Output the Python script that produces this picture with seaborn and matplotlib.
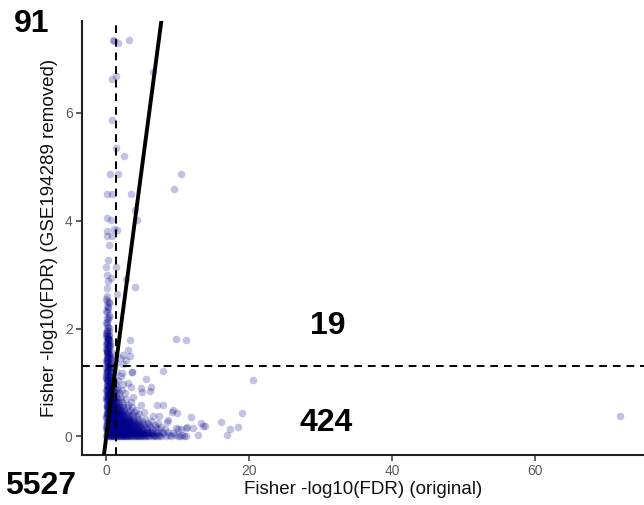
import numpy as np
import pandas as pd
import matplotlib
matplotlib.use("Agg")
import matplotlib.pyplot as plt
import seaborn as sns

sns.set_theme(style="white")
plt.rcParams['font.family'] = ['Liberation Sans', 'DejaVu Sans']

# ---------------- data ----------------
x_label = "Fisher -log10(FDR) (original)"
y_label = "Fisher -log10(FDR) (GSE194289 removed)"
x_ticks = [0, 20, 40, 60]
y_ticks = [0, 2, 4, 6]
fdr_cut = 1.3
quad_counts = {"top_left": "91", "bottom_left": "5527", "top_right": "19", "bottom_right": "424"}

# individually visible points
sparse_x = [1.0, 1.57, 3.2, 1.14, 0.76, 1.3, 6.5, 0.76, 1.36, 2.48,
            0.52, 1.6, 10.4, 9.44, 0.05, 0.8, 3.46, 4.0, 4.3, 0.05,
            0.66, 1.45, 1.12, 0.05, 0.07, 0.76, 0.42, 0.0, 1.36, 0.14,
            0.6, 0.05, 4.0, 1.54, 2.76, 0.05, 0.34, 0.0, 0.42, 0.05,
            0.07, 0.05, 3.3, 3.1, 2.3, 2.75, 9.75, 11.1, 8.0, 3.64,
            3.0, 5.56, 6.12, 4.96, 7.06, 9.4, 20.5, 19.0, 16.1, 18.5,
            17.3, 16.9, 13.8, 13.2, 12.9, 11.3, 10.1, 8.7, 72.0, 11.9,
            13.6, 10.9, 10.3, 11.1, 12.2, 9.9, 3.3, 2.4, 2.2, 0.3,
            0.2, 0.1, 0.25, 0.15, 0.35,
            3.6, 4.8, 6.2, 8.0, 9.2, 7.4, 8.5, 9.7,
            0.1, 0.3, 0.0, 0.2, 0.4, 0.05, 0.25, 0.15, 0.35, 0.0]
sparse_y = [7.36, 7.30, 7.36, 7.33, 6.63, 6.69, 6.75, 5.86, 5.35, 5.21,
            4.87, 4.87, 4.87, 4.58, 4.49, 4.49, 4.49, 4.20, 4.02, 4.05,
            4.02, 3.83, 3.84, 3.81, 3.72, 3.72, 3.55, 3.15, 3.15, 3.00,
            2.94, 2.75, 2.78, 2.65, 2.92, 2.60, 2.47, 2.32, 2.26, 2.13,
            2.07, 1.95, 1.79, 1.61, 1.51, 1.42, 1.81, 1.79, 1.22, 1.20,
            0.99, 1.06, 0.85, 0.82, 0.58, 0.49, 1.05, 0.44, 0.26, 0.17,
            0.13, 0.03, 0.19, 0.25, 0.03, 0.18, 0.14, 0.31, 0.38, 0.36,
            0.19, 0.00, 0.00, 0.15, 0.15, 0.43, 1.50, 1.35, 1.18, 3.28,
            2.88, 2.52, 2.40, 2.20, 2.02,
            1.19, 0.89, 0.91, 0.58, 0.46, 0.37, 0.27, 0.15,
            1.98, 2.03, 2.10, 2.17, 2.22, 2.30, 2.36, 2.42, 2.50, 2.55]

# dense column of genes near x = 0
col_x = [0.0, 0.2, 0.45, 0.1, 0.3, 0.05, 0.6, 0.15, 0.35, 0.25,
         0.1, 0.4, 0.0, 0.25, 0.55, 0.15, 0.3, 0.05, 0.5, 0.2,
         0.3, 0.0, 0.2, 0.5, 0.1, 0.4, 0.05, 0.35, 0.15, 0.6,
         0.05, 0.35, 0.15, 0.6, 0.0, 0.25, 0.45, 0.1, 0.3, 0.2,
         0.4, 0.1, 0.3, 0.0, 0.2, 0.55, 0.15, 0.05, 0.25, 0.45,
         0.2, 0.5, 0.05, 0.3, 0.45, 0.0, 0.1, 0.4, 0.6, 0.15,
         0.0, 0.25, 0.4, 0.15, 0.05, 0.35, 0.2, 0.5, 0.1, 0.3,
         0.15, 0.45, 0.0, 0.3, 0.6, 0.1, 0.25, 0.05, 0.35, 0.2,
         0.35, 0.05, 0.2, 0.45, 0.1, 0.0, 0.3, 0.15, 0.5, 0.25,
         0.1, 0.3, 0.0, 0.2, 0.4, 0.05, 0.15, 0.35, 0.25, 0.45]
col_y = [0.00, 0.03, 0.06, 0.04, 0.09, 0.12, 0.10, 0.15, 0.18, 0.14,
         0.21, 0.24, 0.20, 0.27, 0.30, 0.26, 0.33, 0.36, 0.32, 0.39,
         0.42, 0.38, 0.45, 0.48, 0.44, 0.51, 0.54, 0.50, 0.57, 0.60,
         0.56, 0.63, 0.66, 0.62, 0.69, 0.72, 0.68, 0.75, 0.78, 0.74,
         0.81, 0.84, 0.80, 0.87, 0.90, 0.86, 0.93, 0.96, 0.92, 0.99,
         1.02, 0.98, 1.05, 1.08, 1.04, 1.11, 1.14, 1.10, 1.17, 1.20,
         1.16, 1.23, 1.26, 1.22, 1.29, 1.32, 1.28, 1.35, 1.38, 1.34,
         1.41, 1.44, 1.40, 1.47, 1.50, 1.46, 1.53, 1.56, 1.52, 1.59,
         1.62, 1.58, 1.65, 1.68, 1.64, 1.71, 1.74, 1.70, 1.77, 1.80,
         1.76, 1.83, 1.86, 1.82, 1.89, 1.92, 1.88, 1.95, 0.07, 0.13]

col2_x = [0.25, 0.05, 0.4, 0.15, 0.0, 0.3, 0.5, 0.1, 0.2, 0.45,
          0.0, 0.35, 0.1, 0.5, 0.2, 0.05, 0.3, 0.4, 0.15, 0.25,
          0.45, 0.1, 0.3, 0.0, 0.2, 0.5, 0.05, 0.35, 0.15, 0.4,
          0.2, 0.45, 0.05, 0.3, 0.1, 0.0, 0.4, 0.25, 0.5, 0.15,
          0.35, 0.0, 0.2, 0.45, 0.1, 0.3, 0.05, 0.5, 0.25, 0.15,
          0.05, 0.3, 0.15, 0.0, 0.4, 0.2, 0.5, 0.1, 0.35, 0.25,
          0.1, 0.4, 0.0, 0.55, 0.65, 0.7, 0.6, 0.75, 0.55, 0.65,
          0.8, 0.9, 0.7, 0.85, 0.6, 0.75, 0.65, 0.55, 0.7, 0.6]
col2_y = [0.02, 0.05, 0.08, 0.11, 0.16, 0.19, 0.23, 0.25, 0.28, 0.31,
          0.35, 0.37, 0.41, 0.43, 0.46, 0.49, 0.53, 0.55, 0.59, 0.61,
          0.64, 0.67, 0.70, 0.73, 0.77, 0.79, 0.82, 0.85, 0.88, 0.91,
          0.95, 0.97, 1.01, 1.03, 1.06, 1.09, 1.12, 1.15, 1.19, 1.21,
          1.25, 1.27, 1.30, 1.33, 1.37, 1.39, 1.43, 1.45, 1.48, 1.51,
          1.55, 1.57, 1.61, 1.63, 1.67, 1.69, 1.72, 1.75, 1.79, 1.81,
          1.85, 1.87, 1.91, 0.01, 0.04, 0.07, 0.10, 0.14, 0.17, 0.22,
          0.02, 0.06, 0.12, 0.18, 0.28, 0.34, 0.47, 0.58, 0.66, 0.76]

# dense cloud near the origin, listed row by row
band_y = [0.00, 0.03, 0.06, 0.09, 0.13, 0.17, 0.21, 0.25, 0.29, 0.33,
          0.37, 0.41, 0.45, 0.49, 0.54, 0.59, 0.64, 0.69, 0.74, 0.80,
          0.86, 0.92, 0.98, 1.05, 1.12, 1.20, 1.28, 1.37, 1.46, 1.56,
          0.015, 0.045, 0.075, 0.11, 0.15, 0.19, 0.23, 0.27, 0.31, 0.35,
          0.39, 0.43, 0.47, 0.52, 0.57, 0.62, 0.67, 0.72, 0.77, 0.83, 0.89]
band_x = [
    [0.5, 0.9, 1.2, 1.6, 1.9, 2.3, 2.6, 3.0, 3.3, 3.7, 4.1, 4.4, 4.8, 5.2, 5.6, 6.0, 6.5, 7.0, 7.6, 8.3, 9.1, 10.0, 11.2],
    [0.7, 1.0, 1.4, 1.7, 2.1, 2.4, 2.8, 3.2, 3.5, 3.9, 4.3, 4.7, 5.1, 5.5, 6.2, 6.8, 7.4, 8.8, 9.6, 10.6],
    [0.6, 0.8, 1.1, 1.5, 1.8, 2.2, 2.5, 2.9, 3.4, 3.8, 4.2, 4.6, 5.0, 5.4, 5.9, 6.4, 7.2, 8.0, 9.3],
    [0.9, 1.3, 1.6, 2.0, 2.4, 2.7, 3.1, 3.6, 4.0, 4.5, 4.9, 5.3, 5.8, 6.3, 7.0, 7.8, 8.6],
    [0.6, 1.0, 1.4, 1.8, 2.1, 2.5, 2.9, 3.3, 3.7, 4.1, 4.6, 5.1, 5.7, 6.4, 7.3, 8.2, 10.4],
    [0.8, 1.2, 1.5, 1.9, 2.3, 2.7, 3.0, 3.5, 3.9, 4.4, 4.9, 5.5, 6.1, 6.9, 7.7],
    [0.7, 1.1, 1.4, 1.7, 2.1, 2.4, 2.8, 3.2, 3.7, 4.2, 4.7, 5.3, 6.0, 6.8],
    [0.6, 0.9, 1.3, 1.6, 2.0, 2.3, 2.7, 3.1, 3.5, 4.0, 4.5, 5.1, 5.8, 7.2],
    [0.8, 1.2, 1.5, 1.9, 2.2, 2.6, 3.0, 3.4, 3.9, 4.4, 5.0, 6.3],
    [0.7, 1.0, 1.4, 1.7, 2.1, 2.5, 2.9, 3.3, 3.8, 4.4, 5.4],
    [0.6, 0.9, 1.3, 1.6, 2.0, 2.4, 2.8, 3.2, 3.7, 4.3, 6.6],
    [0.8, 1.1, 1.5, 1.8, 2.2, 2.6, 3.0, 3.6, 4.6],
    [0.7, 1.0, 1.4, 1.7, 2.1, 2.5, 3.1, 3.9, 5.3],
    [0.6, 0.9, 1.3, 1.6, 2.0, 2.5, 3.3, 4.1],
    [0.8, 1.2, 1.5, 1.9, 2.4, 2.9, 3.6],
    [0.7, 1.0, 1.4, 1.8, 2.3, 3.0, 4.8],
    [0.6, 0.9, 1.3, 1.7, 2.2, 3.4],
    [0.8, 1.1, 1.5, 2.0, 2.7],
    [0.7, 1.0, 1.4, 1.9, 3.8],
    [0.6, 0.9, 1.3, 1.8, 2.6],
    [0.8, 1.2, 1.6, 2.2],
    [0.7, 1.0, 1.5, 3.5],
    [0.6, 0.9, 1.3, 2.4],
    [0.7, 1.1, 1.6],
    [0.6, 1.0, 2.1],
    [0.8, 1.3],
    [0.7, 1.1],
    [0.6, 1.4],
    [0.8, 1.9],
    [0.7],
    [0.55, 0.75, 1.05, 1.3, 1.55, 1.85, 2.15, 2.45, 2.75, 3.1, 3.45, 3.85, 4.25, 4.65, 5.3, 5.9, 6.7, 7.4],
    [0.65, 0.95, 1.25, 1.5, 1.75, 2.05, 2.35, 2.65, 3.0, 3.35, 3.75, 4.15, 4.55, 5.0, 5.7, 6.5],
    [0.55, 0.85, 1.15, 1.45, 1.7, 2.0, 2.3, 2.6, 2.95, 3.3, 3.7, 4.1, 4.7, 5.5, 6.2],
    [0.65, 0.95, 1.2, 1.5, 1.8, 2.1, 2.45, 2.8, 3.2, 3.6, 4.0, 4.5, 5.2],
    [0.55, 0.85, 1.15, 1.45, 1.75, 2.05, 2.4, 2.75, 3.15, 3.6, 4.2, 4.9],
    [0.65, 0.95, 1.25, 1.55, 1.85, 2.2, 2.55, 2.95, 3.4, 3.9, 4.5],
    [0.55, 0.85, 1.15, 1.5, 1.85, 2.2, 2.6, 3.0, 3.5, 4.1],
    [0.65, 1.0, 1.3, 1.65, 2.0, 2.4, 2.85, 3.3, 3.8],
    [0.55, 0.9, 1.2, 1.55, 1.9, 2.3, 2.75, 3.2],
    [0.65, 0.95, 1.3, 1.65, 2.05, 2.5, 3.0],
    [0.55, 0.85, 1.2, 1.55, 1.95, 2.4],
    [0.65, 1.0, 1.35, 1.7, 2.15],
    [0.55, 0.9, 1.25, 1.6, 2.0],
    [0.65, 1.0, 1.35, 1.75],
    [0.55, 0.9, 1.2, 1.6],
    [0.65, 1.0, 1.4],
    [0.55, 0.9, 1.25],
    [0.65, 1.0],
    [0.55, 0.9],
    [0.65, 1.05],
    [0.55, 0.95],
]

# ---------------- build table ----------------
xs = list(sparse_x) + list(col_x) + list(col2_x)
ys = list(sparse_y) + list(col_y) + list(col2_y)
for yv, row in zip(band_y, band_x):
    xs += row
    ys += [yv] * len(row)
df = pd.DataFrame({"original": xs, "removed": ys})

# ---------------- figure ----------------
W, H = 644, 505
fig = plt.figure(figsize=(W / 100, H / 100), dpi=100)
L, R, B, T = 81.7, 644, 455.3, 20.7
ax = fig.add_axes([L / W, 1 - B / H, (R - L) / W, (B - T) / H])

sns.scatterplot(data=df, x="original", y="removed", color="#00008B",
                alpha=0.24, s=30, linewidth=0, ax=ax, legend=False, zorder=2)

ax.axhline(fdr_cut, color="black", lw=1.4, dashes=(4, 3), zorder=3)
ax.axvline(fdr_cut, color="black", lw=1.4, dashes=(4, 3), zorder=3)
ax.axline((0, 0), slope=1, color="black", lw=2.8, zorder=4)

ax.set_xlim(-3.45, 75.3)
ax.set_ylim(-0.35, 7.71)
ax.set_xticks(x_ticks)
ax.set_yticks(y_ticks)

for side in ["top", "right"]:
    ax.spines[side].set_visible(False)
for side in ["left", "bottom"]:
    ax.spines[side].set_color("#222222")
    ax.spines[side].set_linewidth(1.5)

ax.tick_params(axis="both", which="major", direction="out", length=4, width=1.1,
               color="#333333", labelsize=10, labelcolor="#5a5a5a", pad=2.5,
               bottom=True, left=True)

ax.set_xlabel(x_label, fontsize=13.5, color="#111111", labelpad=2)
ax.set_ylabel(y_label, fontsize=13.5, color="#111111", labelpad=5)

def ftext(px, py, s):
    fig.text(px / W, 1 - py / H, s, fontsize=23, fontweight="bold",
             ha="left", va="baseline", color="black")

ftext(14, 32.3, quad_counts["top_left"])
ftext(5.5, 494.3, quad_counts["bottom_left"])
ftext(310.5, 334.3, quad_counts["top_right"])
ftext(300, 431, quad_counts["bottom_right"])

fig.savefig("out.png", dpi=100)
